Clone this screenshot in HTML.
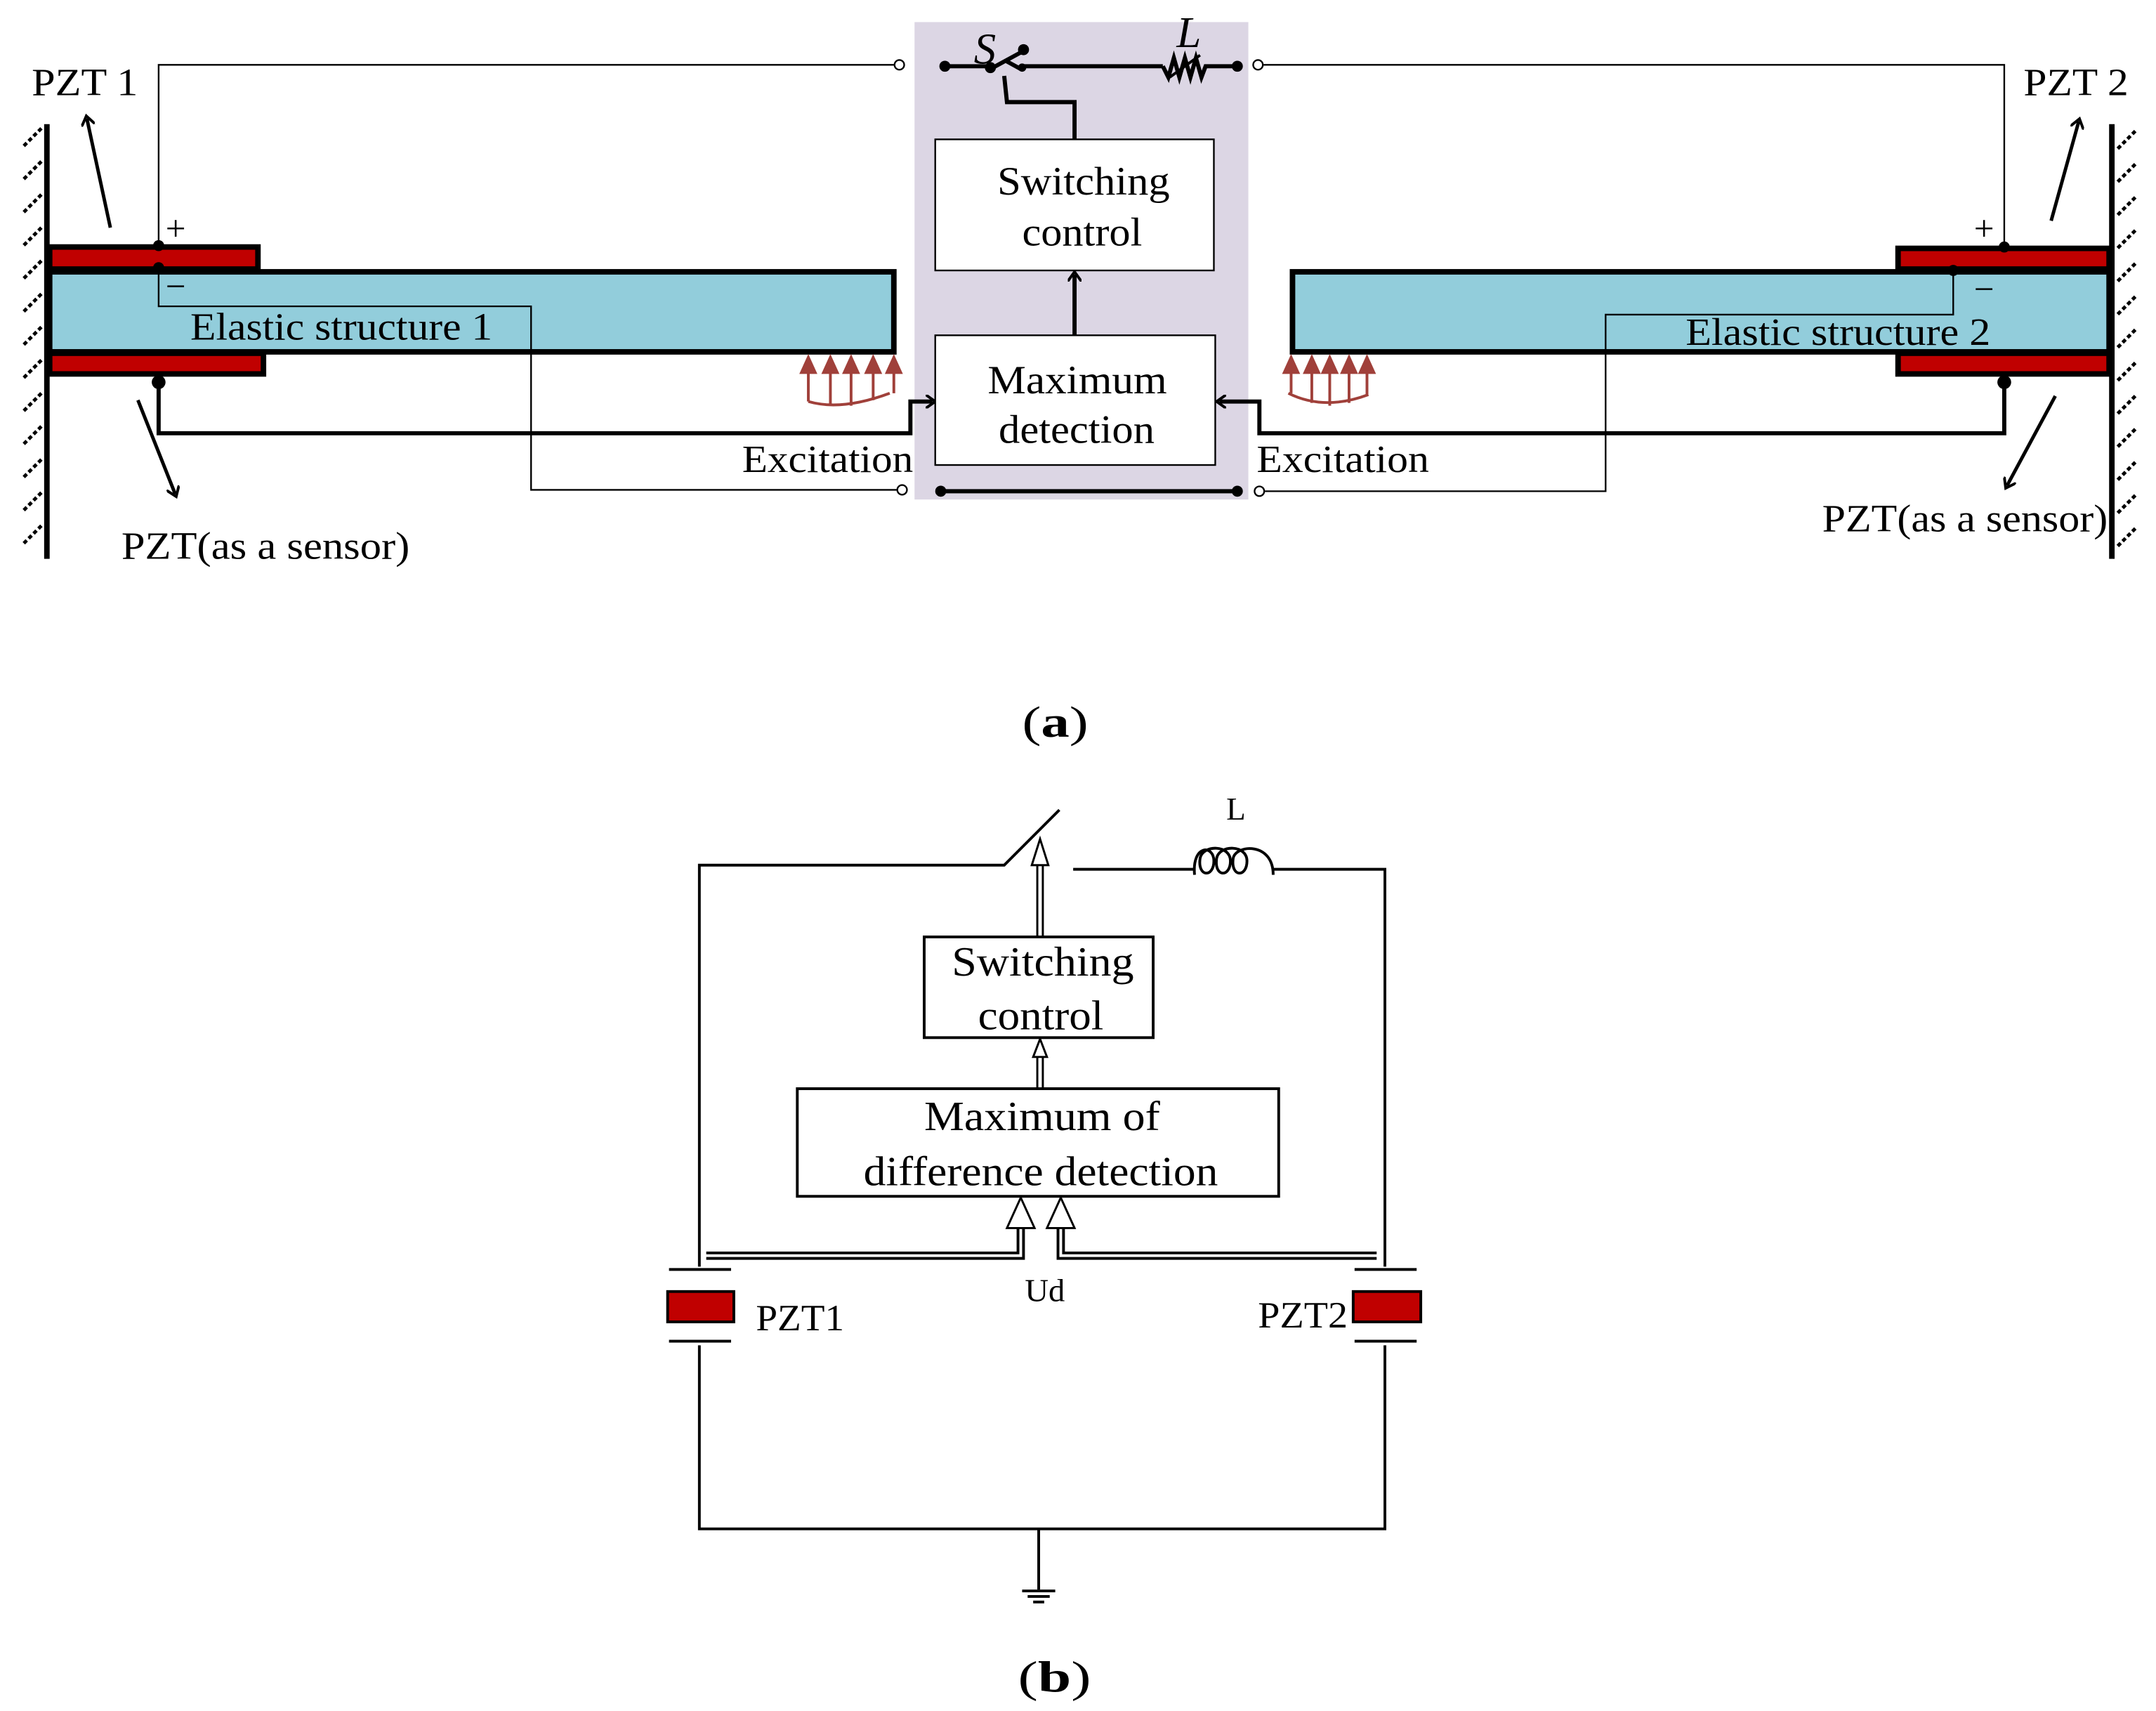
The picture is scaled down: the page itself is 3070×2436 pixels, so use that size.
<!DOCTYPE html>
<html><head><meta charset="utf-8"><style>html,body{margin:0;padding:0;background:#fff}svg{display:block}</style></head>
<body>
<svg width="3070" height="2436" viewBox="0 0 1563 1240" preserveAspectRatio="none" xmlns="http://www.w3.org/2000/svg" font-family="Liberation Serif, serif">
<defs>
<marker id="oa" markerWidth="10" markerHeight="10" refX="5" refY="5" orient="auto" markerUnits="userSpaceOnUse"><path d="M0,0 L7,5 L0,10" fill="none" stroke="#000" stroke-width="2"/></marker>
</defs>
<rect width="1563" height="1240" fill="#fff"/>
<rect x="663" y="16" width="242" height="346" fill="#DCD6E4"/>
<g stroke="#000" stroke-width="4"><line x1="34" y1="90" x2="34" y2="405"/><line x1="1531" y1="90" x2="1531" y2="405"/></g>
<g stroke="#000" stroke-width="2.5" stroke-dasharray="3,2">
<path d="M30,93 L17,106 M30,117 L17,130 M30,141 L17,154 M30,165 L17,178 M30,189 L17,202 M30,213 L17,226 M30,237 L17,250 M30,261 L17,274 M30,285 L17,298 M30,309 L17,322 M30,333 L17,346 M30,357 L17,370 M30,381 L17,394"/>
<path d="M1548,95 L1535,108 M1548,119 L1535,132 M1548,143 L1535,156 M1548,167 L1535,180 M1548,191 L1535,204 M1548,215 L1535,228 M1548,239 L1535,252 M1548,263 L1535,276 M1548,287 L1535,300 M1548,311 L1535,324 M1548,335 L1535,348 M1548,359 L1535,372 M1548,383 L1535,396"/>
</g>
<rect x="36" y="179" width="151" height="16" fill="#C00000" stroke="#000" stroke-width="4"/>
<rect x="36" y="256" width="155" height="15" fill="#C00000" stroke="#000" stroke-width="4"/>
<rect x="36" y="197" width="612" height="58" fill="#92CDDB" stroke="#000" stroke-width="4"/>
<rect x="1376" y="180" width="153" height="15" fill="#C00000" stroke="#000" stroke-width="4"/>
<rect x="1376" y="256" width="153" height="15" fill="#C00000" stroke="#000" stroke-width="4"/>
<rect x="937" y="197" width="592" height="58" fill="#92CDDB" stroke="#000" stroke-width="4"/>
<g fill="none" stroke="#000" stroke-width="1.2">
<polyline points="115,179 115,47 649,47"/>
<polyline points="115,194 115,222 385,222 385,355 650,355"/>
<polyline points="1453,179 1453,47 916,47"/>
<polyline points="1416,196 1416,228 1164,228 1164,356 917,356"/>
</g>
<g fill="#fff" stroke="#000" stroke-width="1.2">
<circle cx="652" cy="47" r="3.5"/><circle cx="654" cy="355" r="3.5"/>
<circle cx="912" cy="47" r="3.5"/><circle cx="913" cy="356" r="3.5"/>
</g>
<g fill="none" stroke="#000" stroke-width="3">
<polyline points="115,277 115,314 660,314 660,291 676,291" marker-end="url(#oa)"/>
<polyline points="1453,277 1453,314 913,314 913,291 884,291" marker-end="url(#oa)"/>
<line x1="779" y1="243" x2="779" y2="199" marker-end="url(#oa)"/>
<line x1="682" y1="356" x2="897" y2="356"/>
<polyline points="728,55 730,74 779,74 779,101"/>
<line x1="685" y1="48" x2="716" y2="48"/>
<line x1="742" y1="48" x2="843" y2="48"/>
<polyline points="843,48 847,56 851,42 855,56 859,42 863,56 867,42 871,56 874,48 897,48"/>
<line x1="718" y1="50" x2="740" y2="38"/>
<line x1="729" y1="44" x2="740" y2="50"/>
<line x1="848" y1="56" x2="870" y2="40" stroke-width="2"/>
</g>
<g fill="#000">
<circle cx="115" cy="178" r="4"/><circle cx="115" cy="194" r="4"/><circle cx="115" cy="277" r="5"/>
<circle cx="1453" cy="179" r="4"/><circle cx="1416" cy="196" r="4"/><circle cx="1453" cy="277" r="5"/>
<circle cx="685" cy="48" r="4"/><circle cx="897" cy="48" r="4"/><circle cx="682" cy="356" r="4"/><circle cx="897" cy="356" r="4"/>
<circle cx="718" cy="49" r="4"/><circle cx="742" cy="36" r="4"/><circle cx="741" cy="49" r="3"/>
</g>
<rect x="678" y="101" width="202" height="95" fill="#fff" stroke="#000" stroke-width="1.2"/>
<rect x="678" y="243" width="203" height="94" fill="#fff" stroke="#000" stroke-width="1.2"/>
<g stroke="#000" stroke-width="2.5" fill="none">
<line x1="80" y1="165" x2="63" y2="86" marker-end="url(#oa)"/>
<line x1="100" y1="290" x2="127" y2="358" marker-end="url(#oa)"/>
<line x1="1487" y1="160" x2="1507" y2="88" marker-end="url(#oa)"/>
<line x1="1490" y1="287" x2="1455" y2="352" marker-end="url(#oa)"/>
</g>
<g stroke="#A0403A" stroke-width="2" fill="#A0403A">
<path d="M586,291 Q610,298 645,285" fill="none"/>
<path d="M586,291 L586,266 M602,294 L602,266 M617,294 L617,266 M633,290 L633,266 M648,285 L648,266"/>
<path d="M581,270 L586,259 L591,270Z M597,270 L602,259 L607,270Z M612,270 L617,259 L622,270Z M628,270 L633,259 L638,270Z M643,270 L648,259 L653,270Z"/>
<path d="M934,285 Q960,298 992,286" fill="none"/>
<path d="M936,285 L936,266 M951,292 L951,266 M964,294 L964,266 M978,292 L978,266 M991,286 L991,266"/>
<path d="M931,270 L936,259 L941,270Z M946,270 L951,259 L956,270Z M959,270 L964,259 L969,270Z M973,270 L978,259 L983,270Z M986,270 L991,259 L996,270Z"/>
</g>
<g font-size="28" fill="#000" lengthAdjust="spacingAndGlyphs">
<text x="23" y="69" textLength="77" lengthAdjust="spacingAndGlyphs">PZT 1</text>
<text x="1467" y="69" textLength="76" lengthAdjust="spacingAndGlyphs">PZT 2</text>
<text x="120" y="174" font-size="26">+</text><text x="120" y="216" font-size="26">−</text>
<text x="1431" y="174" font-size="26">+</text><text x="1431" y="218" font-size="26">−</text>
<text x="138" y="246" textLength="219" lengthAdjust="spacingAndGlyphs">Elastic structure 1</text>
<text x="1222" y="250" textLength="221" lengthAdjust="spacingAndGlyphs">Elastic structure 2</text>
<text x="88" y="405" textLength="209" lengthAdjust="spacingAndGlyphs">PZT(as a sensor)</text>
<text x="1321" y="385" textLength="207" lengthAdjust="spacingAndGlyphs">PZT(as a sensor)</text>
<text x="538" y="342" textLength="124" lengthAdjust="spacingAndGlyphs">Excitation</text>
<text x="911" y="342" textLength="125" lengthAdjust="spacingAndGlyphs">Excitation</text>
<text x="723" y="141" font-size="29" textLength="125" lengthAdjust="spacingAndGlyphs">Switching</text>
<text x="741" y="178" font-size="29" textLength="87" lengthAdjust="spacingAndGlyphs">control</text>
<text x="716" y="285" font-size="29" textLength="130" lengthAdjust="spacingAndGlyphs">Maximum</text>
<text x="724" y="321" font-size="29" textLength="113" lengthAdjust="spacingAndGlyphs">detection</text>
<text x="706" y="46" font-size="32" font-style="italic">S</text>
<text x="853" y="34" font-size="32" font-style="italic">L</text>
<text x="741" y="534" font-size="32" textLength="48" lengthAdjust="spacingAndGlyphs">(<tspan font-weight="bold">a</tspan>)</text>
<text x="738" y="1226" font-size="32" textLength="53" lengthAdjust="spacingAndGlyphs">(<tspan font-weight="bold">b</tspan>)</text>
</g>
<g fill="none" stroke="#000" stroke-width="2">
<polyline points="507,918 507,627 728,627 768,587"/>
<polyline points="778,630 866,630"/>
<path d="M866,634 C864,612 880,612 880,624 C880,636 868,636 870,622 C872,612 892,612 892,624 C892,636 880,636 882,622 C884,612 904,612 904,624 C904,636 892,636 894,622 C896,612 923,610 923,634"/>
<polyline points="923,630 1004,630 1004,918"/>
<polyline points="507,975 507,1108 1004,1108 1004,975"/>
<line x1="753" y1="1108" x2="753" y2="1152"/>
<line x1="741" y1="1153" x2="765" y2="1153"/><line x1="745" y1="1157" x2="761" y2="1157"/><line x1="749" y1="1161" x2="757" y2="1161"/>
<line x1="485" y1="920" x2="530" y2="920"/><line x1="485" y1="972" x2="530" y2="972"/>
<line x1="982" y1="920" x2="1027" y2="920"/><line x1="982" y1="972" x2="1027" y2="972"/>
<polyline points="512,908 738,908 738,890"/><polyline points="512,912 742,912 742,890"/>
<polyline points="998,908 771,908 771,890"/><polyline points="998,912 767,912 767,890"/>
<line x1="752" y1="680" x2="752" y2="625" stroke-width="1.5"/><line x1="756" y1="680" x2="756" y2="625" stroke-width="1.5"/>
<line x1="752" y1="789" x2="752" y2="765" stroke-width="1.5"/><line x1="756" y1="789" x2="756" y2="765" stroke-width="1.5"/>
</g>
<g fill="#fff" stroke="#000" stroke-width="1.5">
<path d="M748,627 L754,608 L760,627Z"/>
<path d="M749,766 L754,753 L759,766Z"/>
<path d="M730,890 L740,868 L750,890Z"/>
<path d="M759,890 L769,868 L779,890Z"/>
</g>
<rect x="670" y="679" width="166" height="73" fill="#fff" stroke="#000" stroke-width="2"/>
<rect x="578" y="789" width="349" height="78" fill="#fff" stroke="#000" stroke-width="2"/>
<rect x="484" y="936" width="48" height="22" fill="#C00000" stroke="#000" stroke-width="2"/>
<rect x="981" y="936" width="49" height="22" fill="#C00000" stroke="#000" stroke-width="2"/>
<g fill="#000" font-size="30">
<text x="690" y="707" textLength="132" lengthAdjust="spacingAndGlyphs">Switching</text>
<text x="709" y="746" textLength="91" lengthAdjust="spacingAndGlyphs">control</text>
<text x="670" y="819" textLength="171" lengthAdjust="spacingAndGlyphs">Maximum of</text>
<text x="626" y="859" textLength="257" lengthAdjust="spacingAndGlyphs">difference detection</text>
<text x="548" y="964" font-size="27" textLength="64" lengthAdjust="spacingAndGlyphs">PZT1</text>
<text x="912" y="962" font-size="27" textLength="65" lengthAdjust="spacingAndGlyphs">PZT2</text>
<text x="743" y="943" font-size="23" textLength="29" lengthAdjust="spacingAndGlyphs">Ud</text>
<text x="889" y="594" font-size="23">L</text>
</g>
</svg>
</body></html>
